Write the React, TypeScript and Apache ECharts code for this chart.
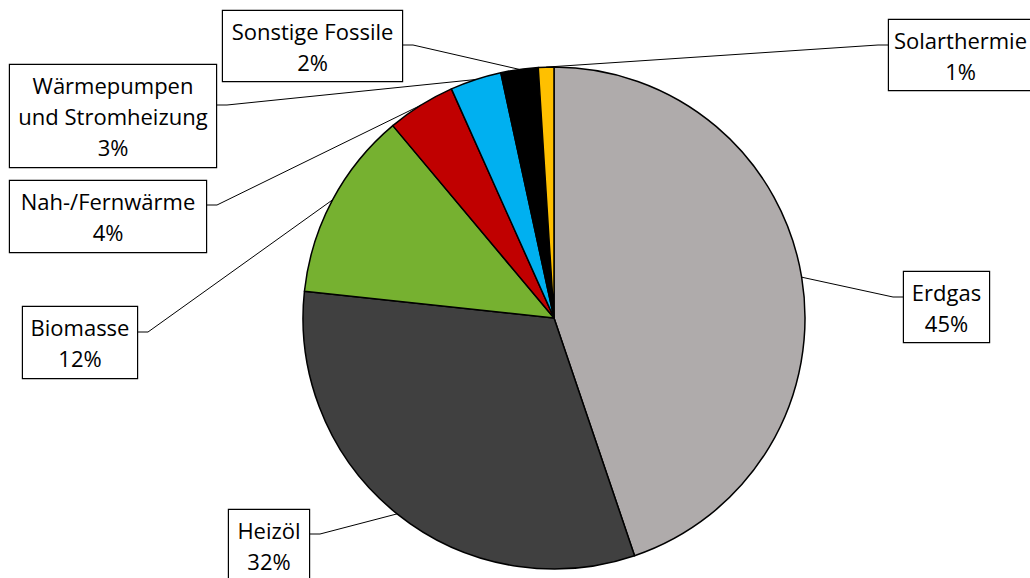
import React, { useEffect, useRef } from "react";
import * as echarts from "echarts";

// Final energy mix for space heating, share in percent
const categories = [
  "Erdgas",
  "Heizöl",
  "Biomasse",
  "Nah-/Fernwärme",
  "Wärmepumpen\nund Stromheizung",
  "Sonstige Fossile",
  "Solarthermie",
];
const shares = [44.8, 31.9, 12.2, 4.4, 3.3, 2.4, 1.0];
const sliceColors = ["#AFABAB", "#404040", "#76B130", "#C00000", "#00B0F0", "#000000", "#FFC000"];

// Callout boxes: left, top, width, height, the y where the leader line enters,
// and which edge of the box the leader line attaches to.
const labelBoxes = [
  { x: 904, y: 272, w: 85, h: 70, anchorY: 297, side: "left" },
  { x: 229, y: 510, w: 80, h: 70, anchorY: 534, side: "right" },
  { x: 23, y: 307, w: 114, h: 71, anchorY: 332, side: "right" },
  { x: 10, y: 181, w: 196, h: 71, anchorY: 205, side: "right" },
  { x: 10, y: 65, w: 206, h: 102, anchorY: 105, side: "right" },
  { x: 223, y: 11, w: 179, h: 70, anchorY: 45, side: "right" },
  { x: 889, y: 20, w: 143, h: 70, anchorY: 45, side: "left" },
];

const STUB = 11;

export default function App() {
  const ref = useRef<HTMLDivElement>(null);

  useEffect(() => {
    if (!ref.current) return;
    const chart = echarts.init(ref.current, undefined, { renderer: "svg" });

    const data = categories.map((name, i) => ({
      name,
      value: shares[i],
      itemStyle: { color: sliceColors[i] },
      label: { width: labelBoxes[i].w, height: labelBoxes[i].h },
    }));

    chart.setOption({
      animation: false,
      backgroundColor: "#ffffff",
      series: [
        {
          type: "pie",
          center: [554, 318],
          radius: 251,
          startAngle: 90,
          clockwise: true,
          avoidLabelOverlap: false,
          itemStyle: { borderColor: "#000000", borderWidth: 1.5 },
          emphasis: { disabled: true },
          label: {
            show: true,
            position: "outside",
            formatter: (p: any) => `${p.name}\n${Math.round(p.value)}%`,
            fontFamily: "Open Sans",
            fontSize: 22,
            lineHeight: 31,
            color: "#000000",
            align: "center",
            backgroundColor: "#ffffff",
            borderColor: "#000000",
            borderWidth: 1.2,
            padding: 0,
          },
          labelLine: {
            show: true,
            length: 20,
            length2: 10,
            lineStyle: { color: "#000000", width: 1 },
          },
          labelLayout: (params: any) => {
            const b = labelBoxes[params.dataIndex];
            const edgeX = b.side === "left" ? b.x : b.x + b.w;
            const elbowX = b.side === "left" ? b.x - STUB : b.x + b.w + STUB;
            const pts = params.labelLinePoints;
            const layout: any = {
              x: b.x + b.w / 2,
              y: b.y + b.h / 2,
              align: "center",
              verticalAlign: "middle",
            };
            if (pts && pts.length) {
              layout.labelLinePoints = [
                [pts[0][0], pts[0][1]],
                [elbowX, b.anchorY],
                [edgeX, b.anchorY],
              ];
            }
            return layout;
          },
          data,
        },
      ],
    });

    return () => chart.dispose();
  }, []);

  return (
    <div
      ref={ref}
      style={{ position: "fixed", left: 0, top: 0, width: 1030, height: 578, background: "#fff" }}
    />
  );
}
